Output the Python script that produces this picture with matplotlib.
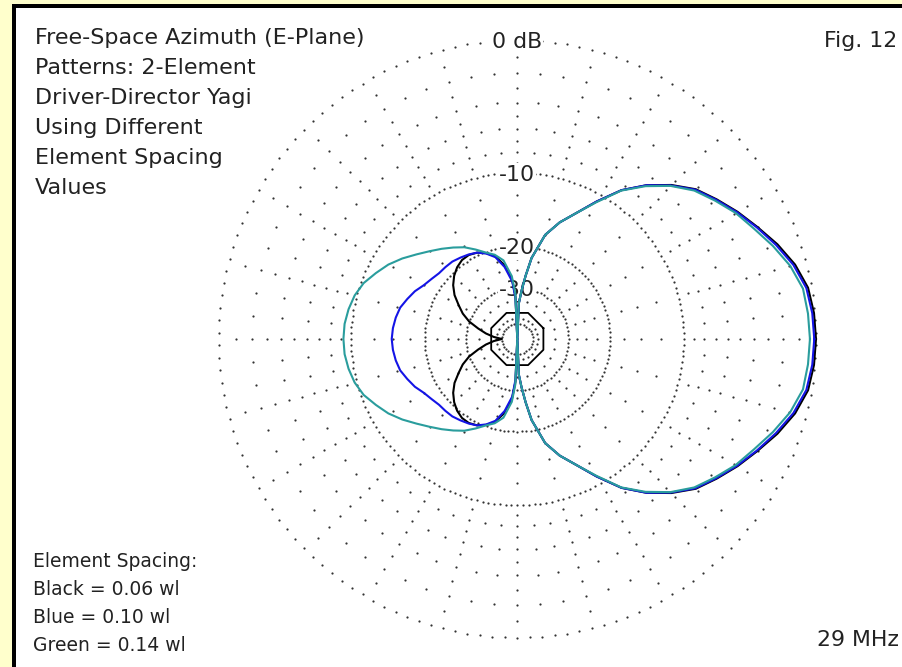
import numpy as np
import matplotlib
matplotlib.use('Agg')
import matplotlib.pyplot as plt
from matplotlib.patches import Rectangle

# azimuth angles (deg) for the upper half; the lower half is its mirror image
angles = [0, 5, 10, 15, 20, 25, 30, 35, 40, 45, 50, 55, 60, 65, 70, 75, 80, 82.5, 85, 87.5, 90,
          92.5, 95, 100, 105, 110, 115, 120, 125, 130, 135, 140, 145,
          150, 155, 160, 165, 170, 175, 180]

# relative field strength in dB (-100 = null at the centre)
black_db = [0.0, -0.05, -0.2, -0.65, -1.3, -2.05, -2.75, -3.5, -4.25, -5.4, -6.8, -8.5, -10.8,
            -13.1, -15.0, -17.4, -22.0, -26.3, -31, -36, -100,
            -33, -27.5, -23.5, -21.3, -20.2, -19.5, -19.2, -19.3, -19.8, -20.6, -21.7, -23.2,
            -25.3, -27.3, -30.0, -34.0, -38.0, -43.0, -50.0]
blue_db = [-0.1, -0.15, -0.3, -0.75, -1.4, -2.1, -2.8, -3.55, -4.3, -5.45, -6.8, -8.5, -10.8,
           -13.1, -15.0, -17.4, -22.0, -26.3, -31, -36, -100,
           -34, -28, -24.0, -21.5, -20.3, -19.5, -19.1, -18.8, -18.5, -18.4, -18.3, -17.9,
           -17.4, -16.6, -16.0, -15.4, -15.1, -14.9, -14.8]
green_db = [-0.35, -0.4, -0.5, -0.95, -1.6, -2.3, -2.9, -3.65, -4.4, -5.5, -6.9, -8.55, -10.9,
            -13.1, -15.0, -17.4, -22.0, -26.3, -31, -36, -100,
            -32, -26.5, -22.5, -21.0, -20.1, -18.9, -17.7, -16.8, -15.9, -15.0, -14.0, -12.9,
            -11.9, -11.1, -10.3, -9.8, -9.5, -9.3, -9.25]

ring_levels = [0, -10, -20, -30, -50]
ring_dots = [150, 180, 130, 80, 30]
ring_labels = ['0 dB', '-10', '-20', '-30']
fine_levels = [-1, -2, -3, -4, -5, -6, -7, -8, -9, -12.5, -15, -17.5,
               -22.5, -25, -27.5, -35, -45]
coarse_levels = [-2, -4, -6, -8]

title_lines = ['Free-Space Azimuth (E-Plane)', 'Patterns: 2-Element',
               'Driver-Director Yagi', 'Using Different', 'Element Spacing', 'Values']
legend_lines = ['Element Spacing:', 'Black = 0.06 wl', 'Blue = 0.10 wl', 'Green = 0.14 wl']

K = -np.log(0.89) / 2  # ARRL log scale: 2 dB per 0.89 step


def fwd(d):
    return np.exp(K * np.asarray(d, dtype=float))


def inv(r):
    return np.log(np.clip(np.asarray(r, dtype=float), 1e-12, None)) / K


def full_circle(a, vals):
    a = np.asarray(a, dtype=float)
    v = np.asarray(vals, dtype=float)
    th = np.concatenate([a, 360 - a[::-1][1:]])
    dv = np.concatenate([v, v[::-1][1:]])
    return np.radians(th), dv


W, H = 902, 667
plt.rcParams['font.family'] = ['DejaVu Sans']
fig = plt.figure(figsize=(W / 100, H / 100), dpi=100, facecolor='#FFFFCC')

fig.patches.append(Rectangle((16 / W, 0), 1, 1 - 8 / H, transform=fig.transFigure,
                             facecolor='white', edgecolor='none', zorder=-2))
fig.patches.append(Rectangle((12 / W, 0), 4 / W, 1 - 4 / H, transform=fig.transFigure,
                             facecolor='black', edgecolor='none', zorder=-1))
fig.patches.append(Rectangle((12 / W, 1 - 8 / H), 1, 4 / H, transform=fig.transFigure,
                             facecolor='black', edgecolor='none', zorder=-1))

cx, cy, R = 517.3, 339.0, 298.7
ax = fig.add_axes([(cx - R) / W, (H - cy - R) / H, 2 * R / W, 2 * R / H], projection='polar')
ax.set_zorder(2)
ax.set_rscale('function', functions=(fwd, inv))
ax.set_ylim(-100, 0)
ax.set_axis_off()
ax.patch.set_visible(False)

dot = dict(ls='none', marker='o', ms=1.6, color='#333333', mec='none', clip_on=False)

# dotted rings
for lev, n in zip(ring_levels, ring_dots):
    th = np.linspace(0, 2 * np.pi, n, endpoint=False) + np.pi / 2
    ax.plot(th, np.full(n, lev), zorder=2, **dot)

# dotted radials
rt, rv = [], []
for a in range(0, 360, 5):
    levels = fine_levels if a % 15 == 0 else coarse_levels
    rt += [np.radians(a)] * len(levels)
    rv += levels
ax.plot(rt, rv, zorder=2, **dot)

# -40 dB reference ring (drawn as an octagon in the original)
th = np.radians(np.arange(22.5, 383, 45))
ax.plot(th, np.full(len(th), -40), color='black', lw=1.3, zorder=3)

for lev, lab in zip(ring_levels, ring_labels):
    ax.text(np.pi / 2, lev, lab, ha='center', va='center_baseline', fontsize=15.8,
            color='#222222', zorder=4,
            bbox=dict(boxstyle='square,pad=0.05', fc='white', ec='none'))

for vals, col in [(black_db, 'black'), (blue_db, '#1414E6'), (green_db, '#2A9D9D')]:
    th, dv = full_circle(angles, vals)
    ax.plot(th, dv, color=col, lw=1.5, zorder=5, clip_on=False)

for i, s in enumerate(title_lines):
    fig.text(35 / W, 1 - (44 + 29.9 * i) / H, s, fontsize=16, color='#222222',
             ha='left', va='baseline')
for i, s in enumerate(legend_lines):
    fig.text(33 / W, 1 - (566.7 + 28.0 * i) / H, s, fontsize=13.5, color='#222222',
             ha='left', va='baseline')
fig.text(897 / W, 1 - 47 / H, 'Fig. 12', fontsize=15.8, color='#222222', ha='right', va='baseline')
fig.text(899 / W, 1 - 646 / H, '29 MHz', fontsize=15.8, color='#222222', ha='right', va='baseline')

fig.savefig('out.png', dpi=100, facecolor=fig.get_facecolor())
